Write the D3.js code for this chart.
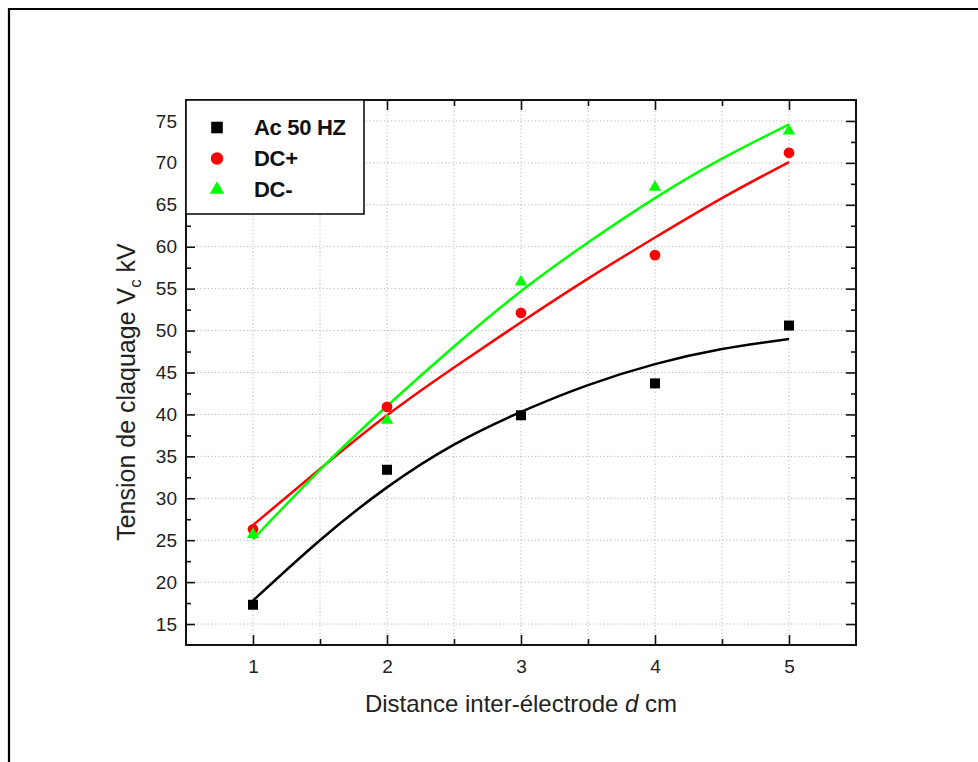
<!DOCTYPE html>
<html>
<head>
<meta charset="utf-8">
<script src="https://cdn.jsdelivr.net/npm/d3@7"></script>
<style>
  body { margin: 0; background: #fff; }
  svg { display: block; font-family: "Liberation Sans", Arial, sans-serif; }
</style>
</head>
<body>
<svg id="chart" width="978" height="762"></svg>
<script>
// measured points
const distances = [1, 2, 3, 4, 5]
const acValues = [17.3, 33.4, 39.9, 43.7, 50.6]
const dcPlusValues = [26.3, 40.9, 52.1, 59.0, 71.2]
const dcMinusValues = [25.7, 39.3, 55.8, 67.1, 73.8]

// fitted curves
const fitX = [1, 1.5, 2, 2.5, 3, 3.5, 4, 4.5, 5]
const acFit = [17.8, 25.0, 31.3, 36.4, 40.3, 43.5, 46.0, 47.8, 49.0]
const dcPlusFit = [26.8, 33.5, 39.9, 45.6, 51.0, 56.2, 61.1, 65.8, 70.1]
const dcMinusFit = [25.1, 33.4, 41.0, 48.1, 54.7, 60.5, 65.8, 70.5, 74.6]

const xTicks = [1, 2, 3, 4, 5]
const xMinor = [1.5, 2.5, 3.5, 4.5]
const yTicks = [15, 20, 25, 30, 35, 40, 45, 50, 55, 60, 65, 70, 75]
const yMinor = [17.5, 22.5, 27.5, 32.5, 37.5, 42.5, 47.5, 52.5, 57.5, 62.5, 67.5, 72.5]

const legendLabels = ["Ac 50 HZ", "DC+", "DC-"]

const svg = d3.select("#chart")
const mLeft = 186, mRight = 856, mTop = 100, mBottom = 645

const x = d3.scaleLinear().domain([0.5, 5.5]).range([mLeft, mRight])
const y = d3.scaleLinear().domain([12.5, 77.5]).range([mBottom, mTop])

const series = [
  { name: legendLabels[0], values: acValues, fit: acFit, color: "#000000", shape: d3.symbolSquare, size: 100 },
  { name: legendLabels[1], values: dcPlusValues, fit: dcPlusFit, color: "#ff0000", shape: d3.symbolCircle, size: 90 },
  { name: legendLabels[2], values: dcMinusValues, fit: dcMinusFit, color: "#00ff00", shape: d3.symbolTriangle, size: 66 }
]

// outer frame (only left and top edges are in view)
svg.append("path")
  .attr("d", "M9,770 V9 H985")
  .attr("fill", "none").attr("stroke", "#000").attr("stroke-width", 2.2)

// grid
const grid = svg.append("g").attr("stroke", "#b5b5b5").attr("stroke-width", 1).attr("stroke-dasharray", "1.2,2.4")
grid.selectAll(".vg").data(xTicks.concat(xMinor)).join("line")
  .attr("x1", d => x(d)).attr("x2", d => x(d)).attr("y1", mTop).attr("y2", mBottom)
grid.selectAll(".hg").data(yTicks).join("line")
  .attr("y1", d => y(d)).attr("y2", d => y(d)).attr("x1", mLeft).attr("x2", mRight)

// fit curves
const line = d3.line().x((d, i) => x(fitX[i])).y(d => y(d)).curve(d3.curveNatural)
svg.selectAll(".fit").data(series).join("path")
  .attr("fill", "none")
  .attr("stroke", d => d.color)
  .attr("stroke-width", 2.5)
  .attr("d", d => line(d.fit))

// markers
series.forEach(s => {
  svg.append("g").selectAll("path").data(s.values).join("path")
    .attr("transform", (d, i) => `translate(${x(distances[i])},${y(d)})`)
    .attr("d", d3.symbol(s.shape, s.size))
    .attr("fill", s.color)
})

// axes with inward ticks
const fmt = d3.format("d")
svg.append("g").attr("transform", `translate(0,${mBottom})`)
  .call(d3.axisBottom(x).tickValues(xTicks).tickFormat(fmt).tickSizeInner(-10).tickSizeOuter(0).tickPadding(15))
svg.append("g").attr("transform", `translate(0,${mBottom})`)
  .call(d3.axisBottom(x).tickValues(xMinor).tickFormat("").tickSizeInner(-6).tickSizeOuter(0))
svg.append("g").attr("transform", `translate(0,${mTop})`)
  .call(d3.axisTop(x).tickValues(xTicks).tickFormat("").tickSizeInner(-10).tickSizeOuter(0))
svg.append("g").attr("transform", `translate(0,${mTop})`)
  .call(d3.axisTop(x).tickValues(xMinor).tickFormat("").tickSizeInner(-6).tickSizeOuter(0))
svg.append("g").attr("transform", `translate(${mLeft},0)`)
  .call(d3.axisLeft(y).tickValues(yTicks).tickFormat(fmt).tickSizeInner(-9).tickSizeOuter(0).tickPadding(9))
svg.append("g").attr("transform", `translate(${mLeft},0)`)
  .call(d3.axisLeft(y).tickValues(yMinor).tickFormat("").tickSizeInner(-5).tickSizeOuter(0))
svg.append("g").attr("transform", `translate(${mRight},0)`)
  .call(d3.axisRight(y).tickValues(yTicks).tickFormat("").tickSizeInner(-10).tickSizeOuter(0))
svg.append("g").attr("transform", `translate(${mRight},0)`)
  .call(d3.axisRight(y).tickValues(yMinor).tickFormat("").tickSizeInner(-5).tickSizeOuter(0))

svg.selectAll(".domain").remove()
svg.selectAll(".tick line").attr("stroke", "#111").attr("stroke-width", 1.6)
svg.selectAll(".tick text").attr("font-family", "Liberation Sans, Arial, sans-serif")
  .attr("font-size", 19).attr("fill", "#222")

// plot frame
svg.append("rect")
  .attr("x", mLeft).attr("y", mTop).attr("width", mRight - mLeft).attr("height", mBottom - mTop)
  .attr("fill", "none").attr("stroke", "#111").attr("stroke-width", 2)

// axis titles
const yTitle = svg.append("text")
  .attr("transform", "translate(135,392) rotate(-90)")
  .attr("text-anchor", "middle").attr("font-size", 25).attr("fill", "#222")
yTitle.append("tspan").text("Tension de claquage V")
yTitle.append("tspan").attr("font-size", 17).attr("dy", 6).text("c")
yTitle.append("tspan").attr("dy", -6).text(" kV")

const xTitle = svg.append("text")
  .attr("x", (mLeft + mRight) / 2).attr("y", 712)
  .attr("text-anchor", "middle").attr("font-size", 24).attr("fill", "#222")
xTitle.append("tspan").text("Distance inter-électrode ")
xTitle.append("tspan").attr("font-style", "italic").text("d")
xTitle.append("tspan").text(" cm")

// legend
const legend = svg.append("g")
legend.append("rect")
  .attr("x", mLeft).attr("y", mTop).attr("width", 178).attr("height", 114)
  .attr("fill", "#fff").attr("stroke", "#111").attr("stroke-width", 1.6)
const rows = legend.selectAll(".row").data(series).join("g")
  .attr("transform", (d, i) => `translate(0,${135 + i * 31})`)
rows.append("path")
  .attr("transform", "translate(217,-7.5)")
  .attr("d", d => d3.symbol(d.shape, d.size * 1.35)())
  .attr("fill", d => d.color)
rows.append("text")
  .attr("x", 254).attr("y", 0)
  .attr("font-size", 22).attr("font-weight", "bold").attr("fill", "#111")
  .attr("letter-spacing", -0.3)
  .text(d => d.name)
</script>
</body>
</html>
